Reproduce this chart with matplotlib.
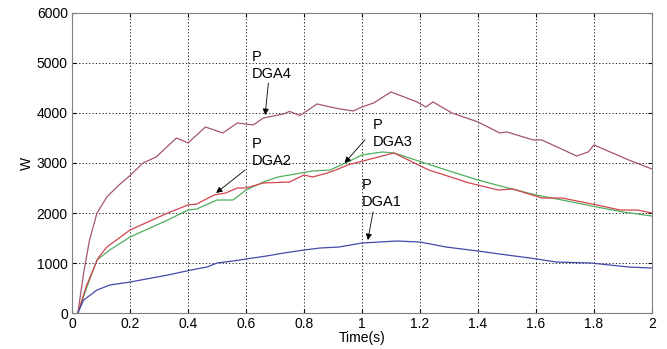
import matplotlib.pyplot as plt
import numpy as np

plt.rcParams['font.family'] = ['Liberation Sans', 'DejaVu Sans']

# ---- datos
t4 = [0.02, 0.04, 0.06, 0.086, 0.12, 0.16, 0.2, 0.245, 0.29, 0.36, 0.40, 0.46, 0.52, 0.57,
      0.625, 0.66, 0.73, 0.75, 0.786, 0.845, 0.89, 0.924, 0.97, 1.0, 1.04, 1.10, 1.19,
      1.22, 1.245, 1.31, 1.40, 1.475, 1.50, 1.59, 1.62, 1.74, 1.78, 1.80, 1.92, 2.0]
p4 = [0, 800, 1450, 2000, 2320, 2550, 2750, 3000, 3120, 3500, 3400, 3720, 3600, 3800,
      3760, 3900, 3980, 4030, 3950, 4180, 4120, 4080, 4040, 4120, 4200, 4420, 4220,
      4120, 4220, 4000, 3820, 3600, 3620, 3460, 3460, 3140, 3220, 3360, 3060, 2880]

t2 = [0.02, 0.05, 0.09, 0.12, 0.2, 0.33, 0.40, 0.43, 0.49, 0.53, 0.57, 0.60, 0.66, 0.75,
      0.80, 0.83, 0.88, 0.91, 0.95, 1.03, 1.11, 1.23, 1.37, 1.47, 1.52, 1.62, 1.69,
      1.81, 1.89, 1.95, 2.0]
p2 = [0, 550, 1100, 1320, 1660, 2000, 2160, 2180, 2360, 2400, 2500, 2500, 2600, 2620,
      2760, 2720, 2800, 2860, 2960, 3080, 3200, 2860, 2600, 2460, 2480, 2300, 2300,
      2160, 2060, 2060, 2000]

t3 = [0.02, 0.05, 0.086, 0.13, 0.2, 0.33, 0.40, 0.43, 0.50, 0.555, 0.60, 0.66, 0.71,
      0.79, 0.83, 0.89, 0.95, 1.0, 1.07, 1.11, 1.29, 1.40, 1.49, 1.60, 1.69, 1.81,
      1.90, 2.0]
p3 = [0, 500, 1060, 1260, 1520, 1860, 2060, 2080, 2260, 2260, 2460, 2620, 2720,
      2800, 2840, 2860, 3020, 3160, 3220, 3200, 2860, 2660, 2520, 2360, 2260, 2120,
      2020, 1940]

t1 = [0.02, 0.04, 0.086, 0.13, 0.2, 0.33, 0.41, 0.465, 0.50, 0.555, 0.60, 0.67, 0.73,
      0.80, 0.855, 0.92, 0.96, 1.0, 1.12, 1.2, 1.29, 1.40, 1.50, 1.58, 1.67, 1.79,
      1.92, 2.0]
p1 = [0, 260, 460, 560, 620, 760, 860, 920, 1000, 1040, 1080, 1140, 1200,
      1260, 1300, 1320, 1360, 1400, 1440, 1420, 1320, 1240, 1160, 1100, 1020, 1000,
      920, 900]

etiquetas = ['P\nDGA4', 'P\nDGA2', 'P\nDGA3', 'P\nDGA1']
pos_texto = [(0.62, 5260), (0.62, 3520), (1.038, 3900), (1.0, 2700)]
inicio_flecha = [(0.677, 4600), (0.597, 2860), (1.01, 3460), (1.038, 2020)]
pos_flecha = [(0.666, 3960), (0.497, 2400), (0.94, 3000), (1.02, 1460)]

fig = plt.figure(figsize=(6.67, 3.49), dpi=100)
ax = fig.add_axes([0.108, 0.103, 0.8695, 0.86])

ax.plot(t4, p4, color='#a5566a', lw=0.9)
ax.plot(t3, p3, color='#4fae5c', lw=0.9)
ax.plot(t2, p2, color='#d0454f', lw=0.9)
ax.plot(t1, p1, color='#4548a8', lw=0.9)

#___ flechas y etiquetas
for lab, (xt, yt), xy0, xy1 in zip(etiquetas, pos_texto, inicio_flecha, pos_flecha):
    ax.text(xt, yt, lab, fontsize=10.5, va='top', ha='left', linespacing=1.3)
    ax.annotate('', xy=xy1, xytext=xy0,
                arrowprops=dict(arrowstyle='-|>', color='k', lw=0.6,
                                mutation_scale=9, shrinkA=0, shrinkB=0))

ax.set_xlim(0, 2)
ax.set_ylim(0, 6000)
ax.set_xticks(np.arange(0, 2.01, 0.2))
ax.set_xticklabels(['0', '0.2', '0.4', '0.6', '0.8', '1', '1.2', '1.4', '1.6', '1.8', '2'])
ax.set_yticks(np.arange(0, 6001, 1000))
ax.grid(True, color='k', linestyle=(0, (1.5, 2.5)), lw=0.6)
ax.tick_params(direction='in', labelsize=10, length=3, top=True, right=True, pad=3)
for s in ax.spines.values():
    s.set_color('#808080')
ax.set_xlabel('Time(s)', fontsize=10, labelpad=0)
ax.set_ylabel('W', fontsize=10, labelpad=2)

fig.savefig('out.png', dpi=100)
